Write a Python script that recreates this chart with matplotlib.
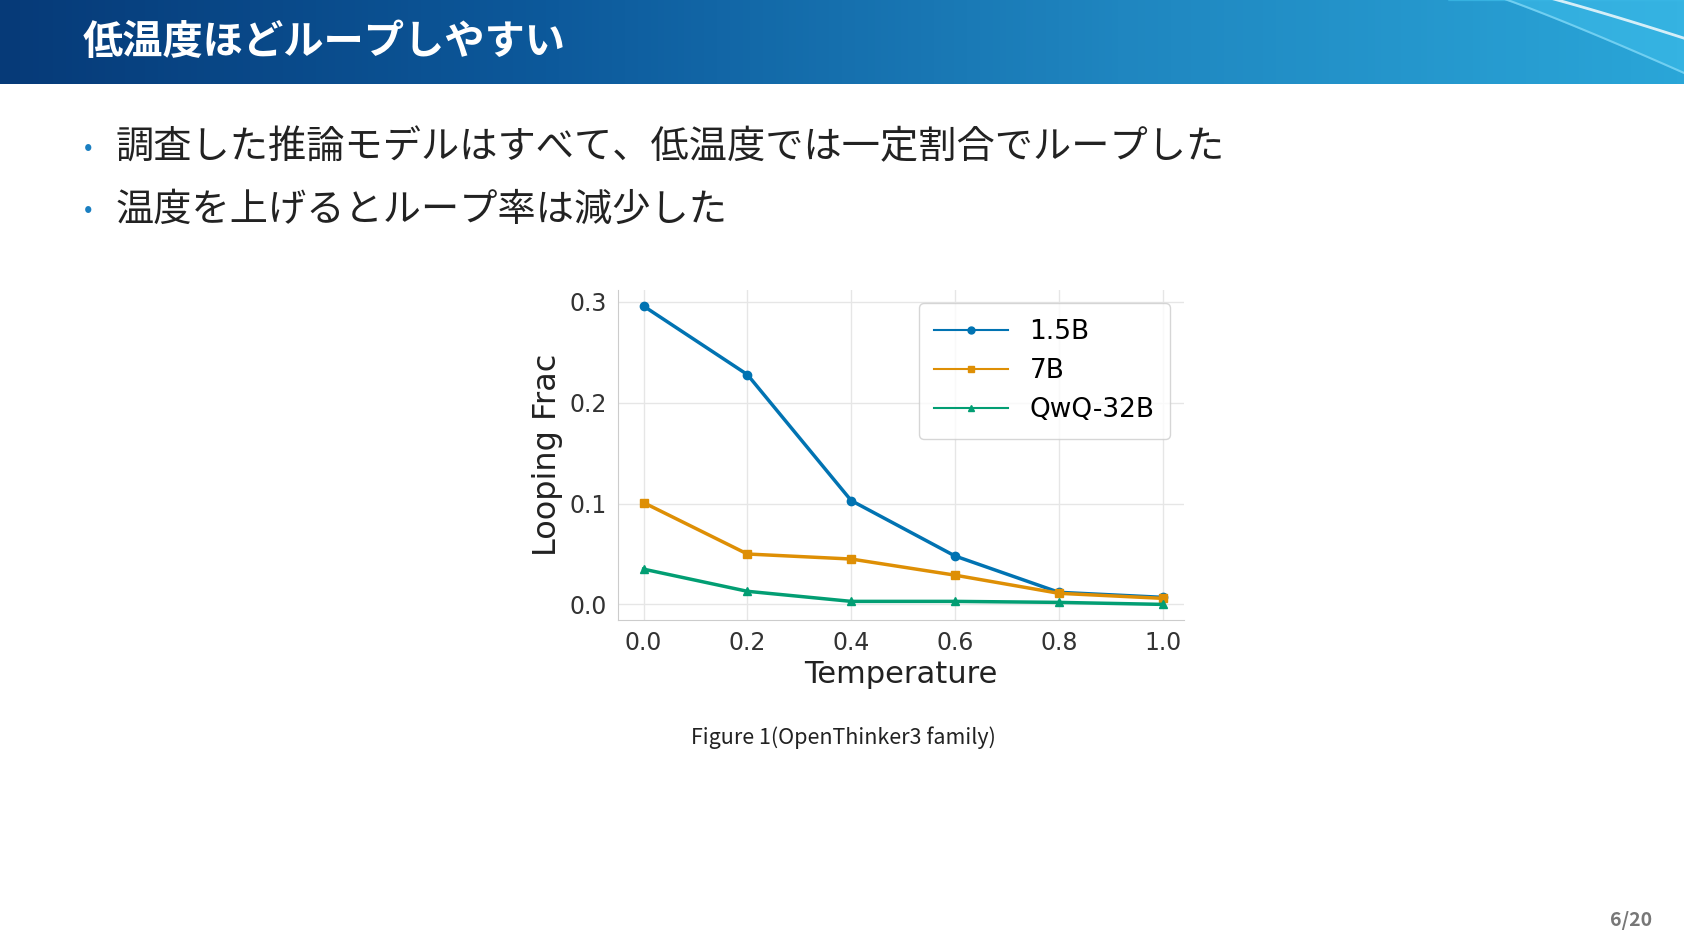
import numpy as np
import matplotlib.pyplot as plt
from matplotlib.colors import LinearSegmentedColormap
from matplotlib.lines import Line2D

plt.rcParams['font.family'] = ['Noto Sans CJK JP', 'DejaVu Sans']

temps = [0.0, 0.2, 0.4, 0.6, 0.8, 1.0]
frac_15b = [0.296, 0.228, 0.103, 0.048, 0.012, 0.007]
frac_7b = [0.101, 0.050, 0.045, 0.029, 0.011, 0.006]
frac_qwq = [0.035, 0.013, 0.003, 0.003, 0.002, 0.000]
title = "低温度ほどループしやすい"
bullets = ["調査した推論モデルはすべて、低温度では一定割合でループした",
           "温度を上げるとループ率は減少した"]

W, H = 1568.0, 882.0
fig = plt.figure(figsize=(16.84, 9.47), dpi=100)

# header band
hdr = fig.add_axes([0, 1 - 78 / H, 1, 78 / H])
cmap = LinearSegmentedColormap.from_list('hdr', ['#063a78', '#0d5a9c', '#1f86c0', '#2aa6d8'])
hdr.imshow(np.linspace(0, 1, 256)[None, :], aspect='auto', cmap=cmap, extent=[0, 1, 0, 1])
xs = np.linspace(0.86, 1.0, 100)
hdr.plot(xs, 1.3 - 8 * (xs - 0.86) ** 1.2, color='white', lw=2, alpha=0.8)
hdr.plot(xs, 1.1 - 10 * (xs - 0.88).clip(0) ** 1.1, color='#7fd6f5', lw=1.5, alpha=0.8)
hdr.fill_between(xs, 1.1 - 10 * (xs - 0.88).clip(0) ** 1.1, 1, color='#40c0ec', alpha=0.5)
hdr.set_xlim(0, 1)
hdr.set_ylim(0, 1)
hdr.axis('off')
fig.text(77 / W, 1 - 40 / H, title, color='white', fontsize=29, va='center', fontweight='bold')

for i, b in enumerate(bullets):
    y = 1 - (138 + 58 * i) / H
    fig.text(78 / W, y, "•", color='#1a7fc1', fontsize=18, va='center')
    fig.text(108 / W, y, b, color='#222222', fontsize=27.5, va='center')

ax = fig.add_axes([575 / W, 1 - 577 / H, (1102 - 575) / W, (577 - 270) / H])
ax.plot(temps, frac_15b, '-o', color='#0173b2', lw=2.5, ms=6)
ax.plot(temps, frac_7b, '-s', color='#de8f05', lw=2.5, ms=6)
ax.plot(temps, frac_qwq, '-^', color='#029e73', lw=2.5, ms=6)
ax.set_xlim(-0.05, 1.04)
ax.set_ylim(-0.015, 0.312)
ax.set_xticks([0.0, 0.2, 0.4, 0.6, 0.8, 1.0])
ax.set_yticks([0.0, 0.1, 0.2, 0.3])
ax.tick_params(labelsize=17, length=0, colors='#333333', pad=8)
for lab in ax.get_xticklabels() + ax.get_yticklabels():
    lab.set_family('DejaVu Sans')
ax.grid(color='#e6e6e6', lw=1)
for s in ['top', 'right']:
    ax.spines[s].set_visible(False)
for s in ['left', 'bottom']:
    ax.spines[s].set_color('#cccccc')
ax.set_xlabel('Temperature', fontsize=22, color='#222222', family='DejaVu Sans')
ax.set_ylabel('Looping Frac', fontsize=23, color='#222222', family='DejaVu Sans')
handles = [Line2D([], [], color='#0173b2', marker='o', lw=1.5, ms=5),
           Line2D([], [], color='#de8f05', marker='s', lw=1.5, ms=5),
           Line2D([], [], color='#029e73', marker='^', lw=1.5, ms=5)]
leg = ax.legend(handles, ['1.5B', '7B', 'QwQ-32B'], loc='upper right', handlelength=2.8,
                borderpad=0.6, prop={'family': 'DejaVu Sans', 'size': 19})
leg.get_frame().set_edgecolor('#cccccc')

fig.text(785 / W, 1 - 687 / H, "Figure 1(OpenThinker3 family)", fontsize=15.5,
         ha='center', va='center', color='#222222')
fig.text(1538 / W, 1 - 857 / H, "6/20", fontsize=14, ha='right', va='center',
         color='#777777', fontweight='bold')

fig.savefig('out.png', dpi=100)
